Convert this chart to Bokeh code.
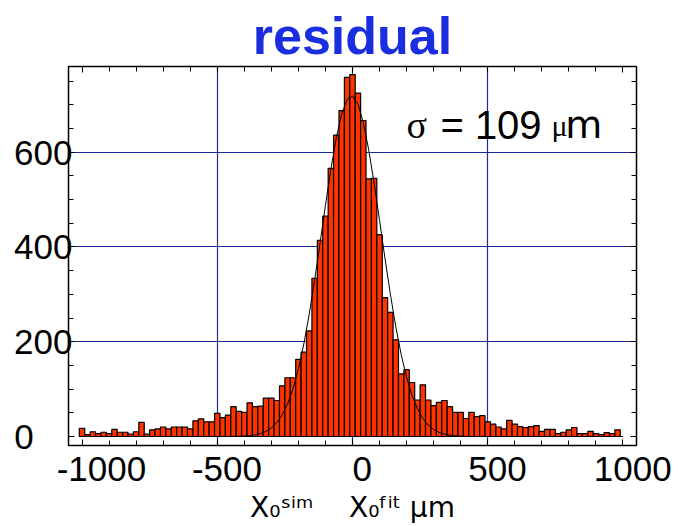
import numpy as np
from bokeh.plotting import figure
from bokeh.models import (Range1d, LinearAxis, SingleIntervalTicker, FixedTicker,
                          Label, ColumnDataSource, Grid, Title)
from bokeh.embed import file_html
from bokeh.resources import INLINE

# ---------------- data ----------------
bin_width = 20
bin_centers = list(range(-1000, 1000, 20))
counts = [
    17, 4, 10, 6, 9, 6, 15, 9, 9, 5,          # -1000 .. -820
    10, 30, 5, 14, 16, 20, 16, 20, 20, 20,    # -800 .. -620
    16, 33, 37, 31, 31, 49, 40, 45, 63, 53,   # -600 .. -420
    51, 71, 63, 64, 81, 81, 76, 107, 124, 124,  # -400 .. -220
    163, 178, 223, 334, 414, 465, 566, 636, 688, 758,  # -200 .. -20
    764, 725, 667, 544, 545, 426, 293, 262, 204, 132,  # 0 .. 180
    141, 114, 77, 109, 77, 65, 72, 76, 63, 51,         # 200 .. 380
    51, 38, 51, 42, 44, 31, 26, 20, 16, 34,            # 400 .. 580
    26, 21, 19, 21, 23, 11, 15, 15, 6, 9,              # 600 .. 780
    14, 19, 6, 6, 11, 6, 4, 8, 6, 14,                  # 800 .. 980
]
fit_amplitude = 719
fit_mean = -4
fit_sigma = 109

x_tick_labels = {-1000: "-1000", -500: "-500", 0: "0", 500: "500", 1000: "1000"}
y_tick_labels = {0: "0", 200: "200", 400: "400", 600: "600"}
grid_x = [-500, 0, 500]
grid_y = [200, 400, 600]
title_text = "residual"
sigma_text = "109"

NB = "\u00a0"
x_axis_title = "X\u2080\u02e2\u2071\u1d50" + NB * 4 + "X\u2080\u1da0\u2071\u1d57" + NB + "\u03bcm"

# ---------------- figure ----------------
p = figure(width=678, height=526,
           x_range=Range1d(-1050, 1050), y_range=Range1d(-19, 781),
           output_backend="svg", toolbar_location=None,
           x_axis_location=None, y_axis_location=None,
           min_border_left=68, min_border_right=42,
           min_border_top=66, min_border_bottom=80)
p.outline_line_color = "black"
p.outline_line_width = 1.5
p.background_fill_color = "white"
p.border_fill_color = "white"

# drop any default grids, keep only the chart's own grid lines
p.center = [r for r in p.center if not isinstance(r, Grid)]
p.renderers = [r for r in p.renderers if not isinstance(r, Grid)]

grid_color = "#1a2a9a"
p.add_layout(Grid(dimension=0, ticker=FixedTicker(ticks=grid_x),
                  grid_line_color=grid_color, grid_line_width=1.2))
p.add_layout(Grid(dimension=1, ticker=FixedTicker(ticks=grid_y),
                  grid_line_color=grid_color, grid_line_width=1.2))


def style_axis(ax, show_labels):
    ax.axis_line_color = None
    ax.major_tick_in = 6
    ax.major_tick_out = 0
    ax.minor_tick_in = 5
    ax.minor_tick_out = 0
    ax.major_tick_line_color = "black"
    ax.minor_tick_line_color = "black"
    ax.major_tick_line_width = 1
    ax.minor_tick_line_width = 1
    if show_labels:
        ax.major_label_text_font = "Liberation Sans"
        ax.major_label_text_font_size = "35px"
        ax.major_label_text_color = "black"
    else:
        ax.major_label_text_color = None
        ax.major_label_text_font_size = "1px"
        ax.major_label_standoff = 0


xt = LinearAxis(ticker=SingleIntervalTicker(interval=500, num_minor_ticks=5))
style_axis(xt, False)
p.add_layout(xt, "above")

title = Title(text=title_text, align="center", offset=24,
              text_font="Liberation Sans", text_font_size="52px",
              text_font_style="bold", text_color="#1a2ee0", standoff=4)
p.add_layout(title, "above")

xb = LinearAxis(ticker=SingleIntervalTicker(interval=500, num_minor_ticks=5))
style_axis(xb, True)
xb.major_label_standoff = 3
xb.major_label_overrides = {k: (NB * 4 if k == -1000 else NB * 2) + v
                            for k, v in x_tick_labels.items()}
xb.axis_label = x_axis_title
xb.axis_label_text_font = "DejaVu Sans"
xb.axis_label_text_font_size = "28px"
xb.axis_label_text_font_style = "normal"
xb.axis_label_text_color = "black"
xb.axis_label_standoff = 0
p.add_layout(xb, "below")

yl = LinearAxis(ticker=SingleIntervalTicker(interval=200, num_minor_ticks=4))
style_axis(yl, True)
yl.major_label_standoff = -4
yl.major_label_overrides = {k: v + NB * (2 * (3 - len(v))) for k, v in y_tick_labels.items()}
p.add_layout(yl, "left")

yr = LinearAxis(ticker=SingleIntervalTicker(interval=200, num_minor_ticks=4))
style_axis(yr, False)
p.add_layout(yr, "right")

# ---------------- histogram ----------------
src = ColumnDataSource(dict(x=bin_centers, top=counts))
p.vbar(x="x", width=bin_width, top="top", bottom=0, source=src,
       fill_color="#ff3300", line_color="black", line_width=1.2)

# gaussian fit curve (sigma = 109 as printed on the chart)
fit_x = np.array(bin_centers + [1000], dtype=float)
fit_y = fit_amplitude * np.exp(-(fit_x - fit_mean) ** 2 / (2 * fit_sigma ** 2))
p.line(fit_x, fit_y, line_color="black", line_width=1)

# ---------------- in-frame annotation ----------------
def lab(x, y, text, font, size):
    p.add_layout(Label(x=x, y=y, text=text, text_font=font,
                       text_font_size=size, text_color="black",
                       text_align="left", text_baseline="alphabetic"))

lab(200, 657, "\u03c3", "Liberation Serif", "38px")
lab(325, 657, "= " + sigma_text, "Liberation Sans", "40px")
lab(736, 657, "\u03bc", "Liberation Serif", "30px")
lab(787, 657, "m", "DejaVu Sans", "38px")

open("out.html", "w").write(file_html(p, INLINE))
